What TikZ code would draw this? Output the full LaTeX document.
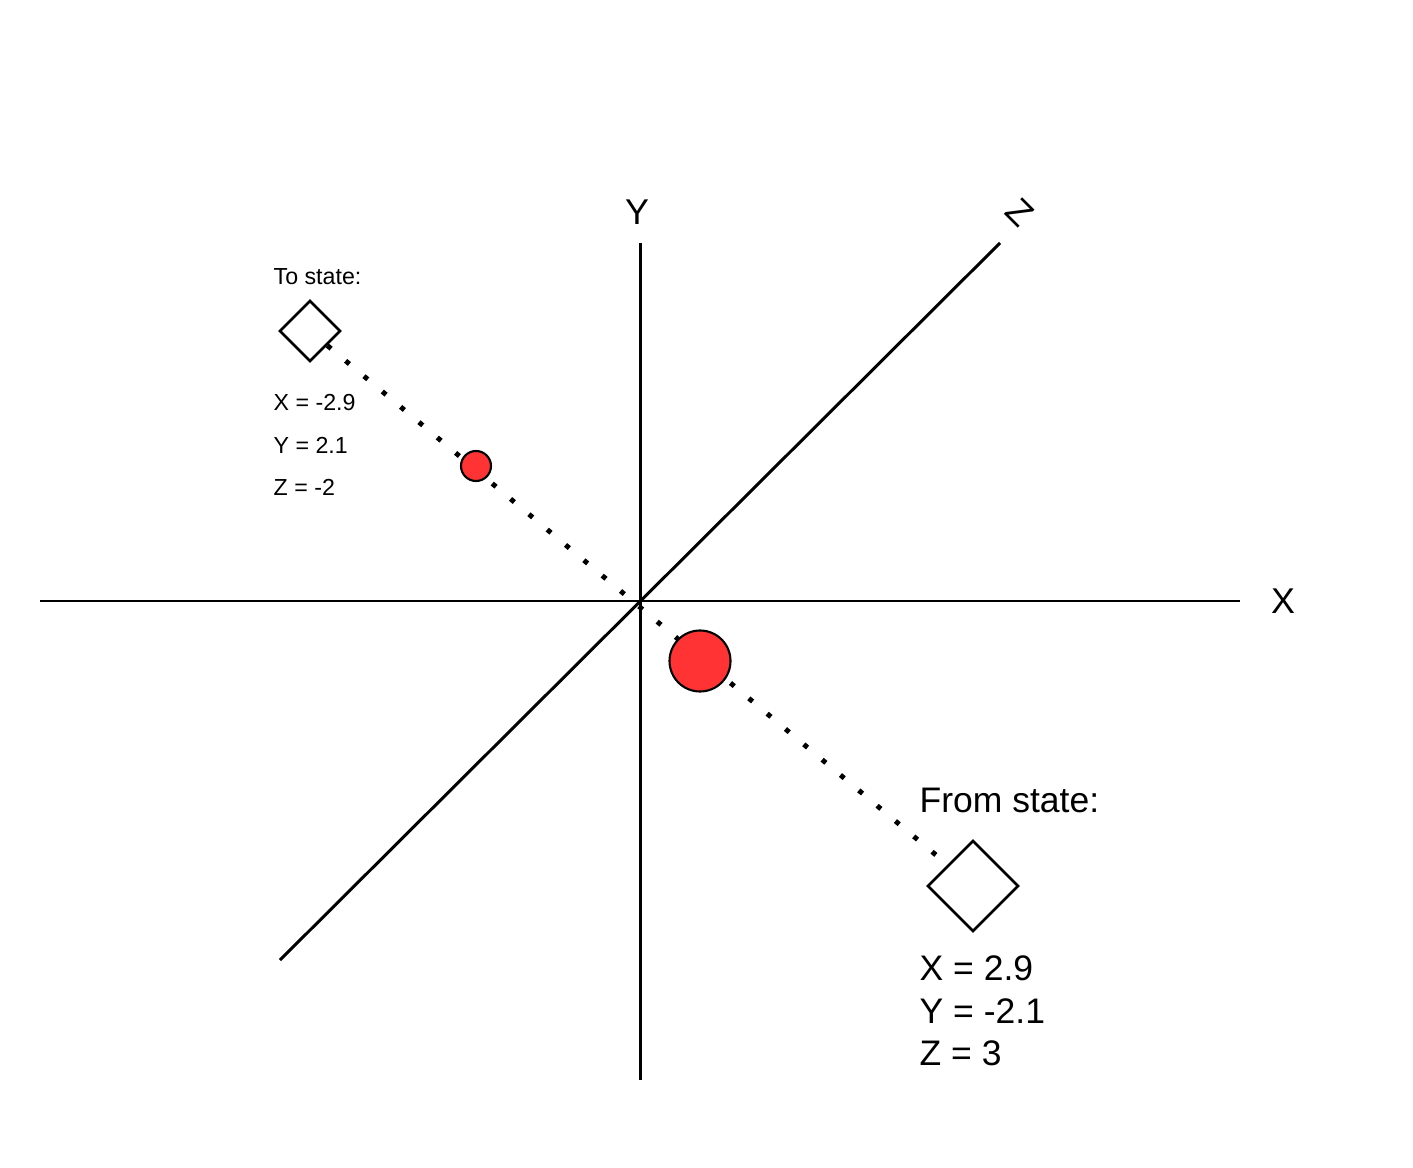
\documentclass[tikz,border=0pt]{standalone}
\usepackage{fontspec}
\setmainfont{Liberation Sans}
\usetikzlibrary{shapes.geometric}
\definecolor{ballred}{HTML}{FF3333}
\tikzset{
  axis/.style={line width=0.85pt},
  state/.style={draw, diamond, aspect=1, inner sep=0pt, line width=0.75pt, fill=white},
  ball/.style={draw, circle, inner sep=0pt, fill=ballred, line width=0.6pt},
  path dots/.style={line width=1.4pt, dash pattern=on 1.4pt off 5.4pt},
  small label/.style={anchor=west, inner sep=0pt, font=\fontsize{6.6}{8}\selectfont},
  big label/.style={anchor=west, inner sep=0pt, font=\fontsize{10.1}{12}\selectfont},
  axis label/.style={inner sep=0pt, font=\fontsize{10.2}{12}\selectfont},
}

\begin{document}
\begin{tikzpicture}
    \useasboundingbox (-6.40,-5.66) rectangle (7.73,6.01);

    % Points
    \coordinate (O) at (0, 0);
    \coordinate (Xl) at (-6, 0);
    \coordinate (Xr) at (6, 0);
    \coordinate (Yt) at (0, 3.58);
    \coordinate (Yb) at (0, -4.79);
    \coordinate (Zb) at (-3.6, -3.59);
    \coordinate (Zt) at (3.6, 3.58);

    % Axes
    \draw[axis] (Xl) -- (Xr);
    \draw[axis] (Yt) -- (Yb);
    \draw[axis] (Zb) -- (Zt);

    % Axis labels
    \node[axis label] (LX) at (6.43, 0) {X};
    \node[axis label] (LY) at (-0.03, 3.89) {Y};
    \node[axis label, rotate=-45] (LZ) at (3.80, 3.88) {Z};

    % States
    \node[state, minimum size=0.61cm] (T) at (-3.30, 2.70) {};
    \node[state, minimum size=0.91cm] (F) at (3.33, -2.85) {};

    % Path between states
    \draw[path dots] (T) -- (F);

    % Positions on the path
    \node[ball, minimum size=0.30cm] (P) at (-1.64, 1.35) {};
    \node[ball, minimum size=0.61cm] (Q) at (0.60, -0.60) {};

    % To state
    \node[small label] (Tt) at (-3.67, 3.24) {To state:};
    \node[small label] (Tx) at (-3.67, 1.98) {X = -2.9};
    \node[small label] (Ty) at (-3.67, 1.56) {Y = 2.1};
    \node[small label] (Tz) at (-3.67, 1.14) {Z = -2};

    % From state
    \node[big label] (Ft) at (2.79, -1.99) {From state:};
    \node[big label] (Fx) at (2.79, -3.67) {X = 2.9};
    \node[big label] (Fy) at (2.79, -4.10) {Y = -2.1};
    \node[big label] (Fz) at (2.79, -4.52) {Z = 3};
\end{tikzpicture}
\end{document}
